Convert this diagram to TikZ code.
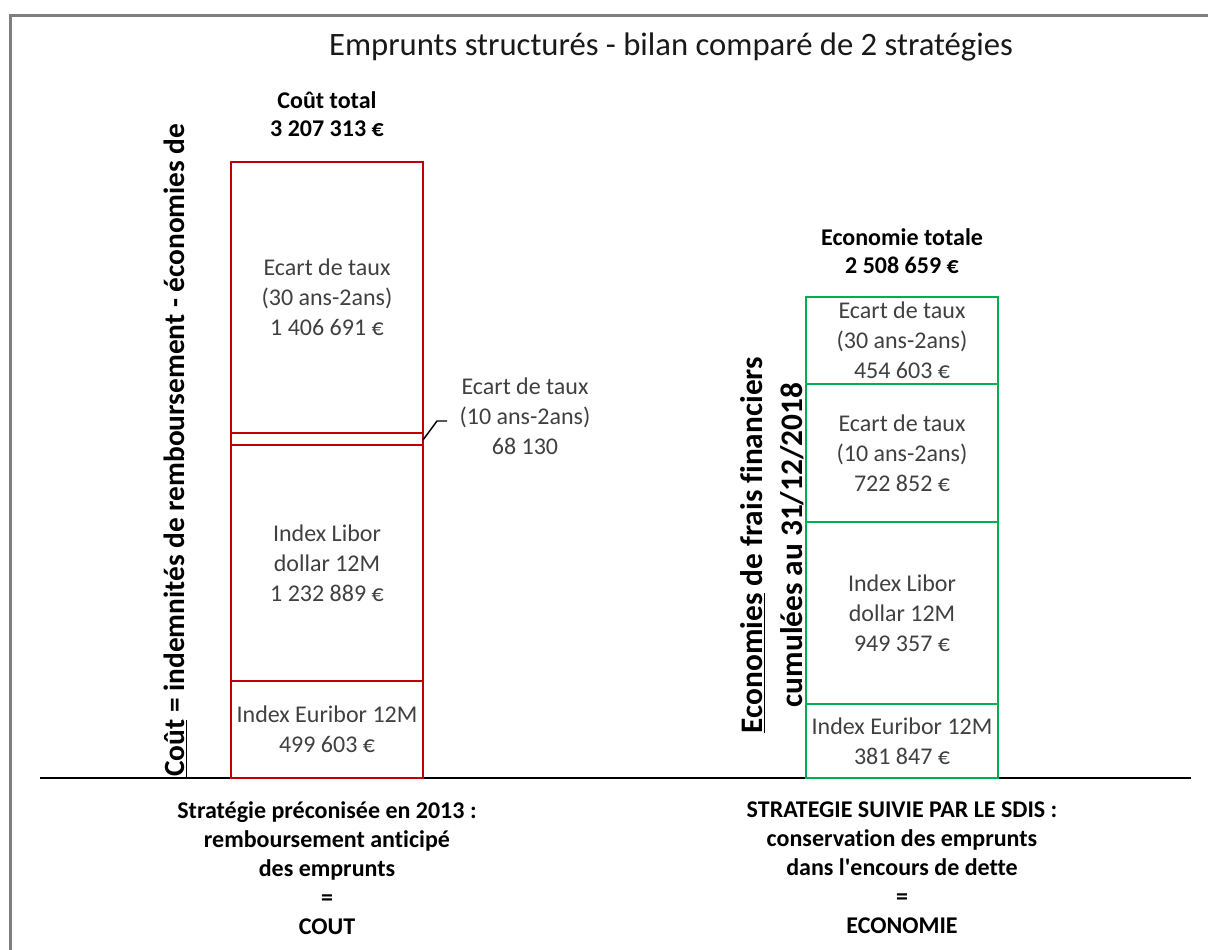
\documentclass[tikz,border=0pt]{standalone}
\usepackage{fontspec}
\setmainfont{Carlito}[Ligatures=NoCommon]
\usetikzlibrary{positioning}
\definecolor{coutred}{HTML}{C00000}
\definecolor{ecogreen}{HTML}{00B050}
\definecolor{framegray}{HTML}{7F7F7F}
\definecolor{txtgray}{HTML}{404040}

\begin{document}
\begin{tikzpicture}[x=0.75pt,y=-0.75pt,
    redseg/.style={draw=coutred,line width=1.5pt},
    greenseg/.style={draw=ecogreen,line width=1.5pt},
    segtext/.style={align=center,text=txtgray,font=\fontsize{18}{22.5}\selectfont},
    headtext/.style={align=center,font=\fontsize{18}{21}\selectfont\bfseries},
    foottext/.style={align=center,font=\fontsize{18}{21.75}\selectfont\bfseries},
    sidetext/.style={rotate=90,align=center,font=\fontsize{22}{30}\selectfont\bfseries}]
    \useasboundingbox (0,0) rectangle (1208,950);
    % Frame and axis
    \draw[framegray,line width=2.25pt] (10,950) |- (1208,15);
    \draw[black,line width=1.5pt] (40,778) -- (1191,778);

    % Title
    \node[font=\fontsize{24.5}{28}\selectfont,text=black!90] (title) at (671,47) {Emprunts structurés - bilan comparé de 2 stratégies};

    % Left stack (cout)
    \draw[redseg] (231,162) rectangle (423,433) node[pos=.5,segtext] (c30) {Ecart de taux\\(30 ans-2ans)\\1 406 691 €};
    \draw[redseg] (231,433) rectangle (423,445);
    \draw[redseg] (231,445) rectangle (423,681) node[pos=.5,segtext] (clibor) {Index Libor\\dollar 12M\\1 232 889 €};
    \draw[redseg] (231,681) rectangle (423,778) node[pos=.5,segtext] (ceuribor) {Index Euribor 12M\\499 603 €};
    \node[headtext] (couttotal) at (327,114) {Coût total\\3 207 313 €};

    % Callout for the thin slice
    \node[segtext] (c10) at (525,416) {Ecart de taux\\(10 ans-2ans)\\68 130};
    \coordinate (thinedge) at (423,440);
    \coordinate (knee) at (437,421);
    \draw[black,line width=1.1pt] (thinedge) -- (knee) -- ++(10,0) coordinate (leadend);

    % Right stack (economie)
    \draw[greenseg] (806,297) rectangle (998,384) node[pos=.5,segtext] (e30) {Ecart de taux\\(30 ans-2ans)\\454 603 €};
    \draw[greenseg] (806,384) rectangle (998,522) node[pos=.5,segtext] (e10) {Ecart de taux\\(10 ans-2ans)\\722 852 €};
    \draw[greenseg] (806,522) rectangle (998,704) node[pos=.5,segtext] (elibor) {Index Libor\\dollar 12M\\949 357 €};
    \draw[greenseg] (806,704) rectangle (998,778) node[pos=.5,segtext] (eeuribor) {Index Euribor 12M\\381 847 €};
    \node[headtext] (ecototal) at (902,251) {Economie totale\\2 508 659 €};

    % Side labels
    \node[sidetext,anchor=base west,inner sep=0pt] (coutside) at (184,777) {\underline{Coût} = indemnités de remboursement - économies de};
    \node[sidetext,font=\fontsize{23.5}{30}\selectfont\bfseries] (ecoside) at (772,545) {\underline{Economies} de frais financiers\\cumulées au 31/12/2018};

    % Strategies
    \node[foottext] (stratleft) at (327,868) {Stratégie préconisée en 2013 :\\remboursement anticipé\\des emprunts\\=\\COUT};
    \node[foottext] (stratright) at (902,868) {STRATEGIE SUIVIE PAR LE SDIS :\\conservation des emprunts\\dans l\textquotesingle encours de dette\\=\\ECONOMIE};
\end{tikzpicture}
\end{document}
